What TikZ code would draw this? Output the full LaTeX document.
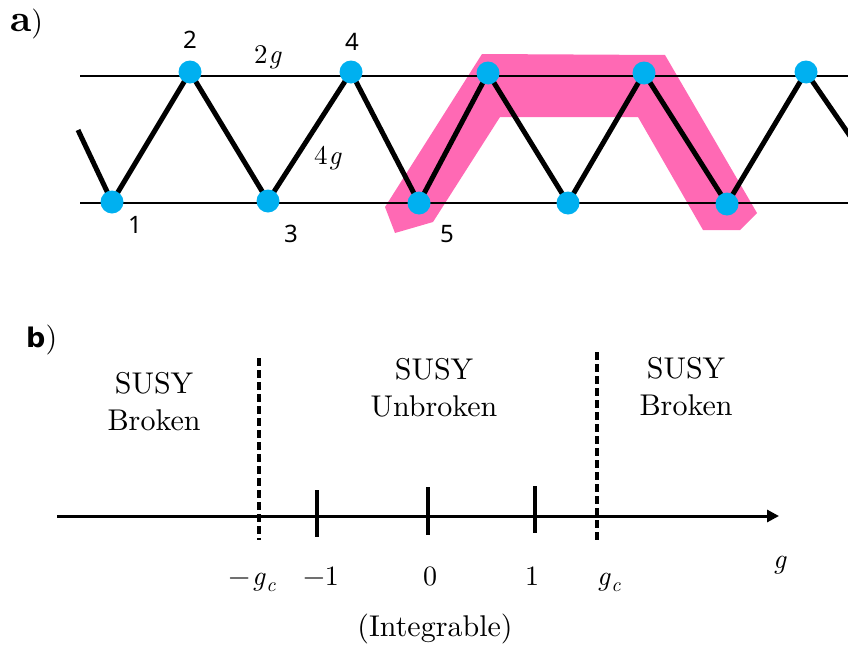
\documentclass[tikz,border=0pt]{standalone}
\usepackage{fontspec}
\setmainfont{lmroman10-regular.otf}[ItalicFont=lmroman10-italic.otf,BoldFont=lmroman10-bold.otf]
\newfontfamily\digfont{Noto Sans}
\newfontfamily\boldsans{DejaVu Sans}
\usetikzlibrary{arrows.meta}
\pgfdeclarelayer{background}
\pgfsetlayers{background,main}
\definecolor{dotblue}{HTML}{00B0F0}
\definecolor{hlpink}{HTML}{FF69B4}
\newcommand{\gvar}{\textit{g}}
\newcommand{\gcrit}{\textit{g}\kern0.5pt\raisebox{-0.22em}{\fontsize{20}{22}\selectfont\textit{c}}}
\tikzset{
  vtx/.style={circle,fill=dotblue,draw=none,minimum size=23pt,inner sep=0pt},
  zig/.style={line width=5pt,black},
  rail/.style={line width=2pt,black},
  numlbl/.style={font=\digfont\fontsize{24}{28}\selectfont,inner sep=0pt},
  mlbl/.style={font=\fontsize{27}{30}\selectfont,inner sep=0pt},
  phase/.style={font=\fontsize{30}{37}\selectfont,align=center,inner sep=0pt},
  axlbl/.style={font=\fontsize{28}{32}\selectfont,inner sep=0pt,anchor=base},
  tick/.style={line width=3.2pt},
  crit/.style={line width=3.2pt,dash pattern=on 8pt off 4pt},
}
\begin{document}
\begin{tikzpicture}[x=1pt,y=-1pt]
\useasboundingbox (0,0) rectangle (848,645);
% ---------- panel a ----------
\node[anchor=base west,inner sep=0pt] (la) at (10,31)
  {{\fontsize{38}{40}\selectfont\bfseries a}{\fontsize{30}{32}\selectfont)}};
\node[vtx] (v1) at (112,202) {};
\node[vtx] (v2) at (190,72) {};
\node[vtx] (v3) at (268,201) {};
\node[vtx] (v4) at (351,72) {};
\node[vtx] (v5) at (419,203) {};
\node[vtx] (v6) at (488,73) {};
\node[vtx] (v7) at (568,203) {};
\node[vtx] (v8) at (644,73) {};
\node[vtx] (v9) at (727,204) {};
\node[vtx] (v10) at (806,72) {};
\coordinate (z0) at (78,130);
\coordinate (z11) at (850,136);
\coordinate (ta) at (80,76);
\coordinate (tb) at (848,76);
\coordinate (ba) at (80,203);
\coordinate (bb) at (848,203);
\begin{pgfonlayer}{background}
  \fill[hlpink] (482,54) -- (665,55) -- (757,213) -- (740,230) -- (703,230)
    -- (638,117) -- (500,117) -- (433,222) -- (395,233) -- (385,207) -- cycle;
  \draw[rail] (ta) -- (tb);
  \draw[rail] (ba) -- (bb);
  \draw[zig] (z0) -- (v1.center) -- (v2.center) -- (v3.center) -- (v4.center)
    -- (v5.center) -- (v6.center) -- (v7.center) -- (v8.center) -- (v9.center)
    -- (v10.center) -- (z11);
\end{pgfonlayer}
\node[numlbl] (n1) at (135,225) {1};
\node[numlbl] (n2) at (190,40) {2};
\node[numlbl] (n3) at (291,234) {3};
\node[numlbl] (n4) at (352,42) {4};
\node[numlbl] (n5) at (447,234) {5};
\node[mlbl] (g2) at (268,57) {2\kern1pt\gvar};
\node[mlbl] (g4) at (328,158) {4\kern1pt\gvar};
% ---------- panel b ----------
\node[anchor=base west,inner sep=0pt] (lb) at (26,347)
  {{\boldsans\bfseries\fontsize{27}{30}\selectfont b}{\fontsize{30}{32}\selectfont)}};
\node[phase] (pl) at (154,402) {SUSY\\Broken};
\node[phase] (pm) at (434,388) {SUSY\\Unbroken};
\node[phase] (pr) at (686,387) {SUSY\\Broken};
\coordinate (axs) at (57,516);
\coordinate (axe) at (779,516);
\draw[line width=3pt,-{Triangle[length=12pt,width=12pt]}] (axs) -- (axe);
\coordinate (d1t) at (259,358);
\coordinate (d1b) at (259,540);
\coordinate (d2t) at (597,352);
\coordinate (d2b) at (597,540);
\draw[crit] (d1t) -- (d1b);
\draw[crit] (d2t) -- (d2b);
\coordinate (t1t) at (317,490);
\coordinate (t1b) at (317,537);
\coordinate (t2t) at (428,487);
\coordinate (t2b) at (428,535);
\coordinate (t3t) at (535,486);
\coordinate (t3b) at (535,533);
\draw[tick] (t1t) -- (t1b);
\draw[tick] (t2t) -- (t2b);
\draw[tick] (t3t) -- (t3b);
\node[axlbl] (lgc1) at (252,585) {−\kern2pt\gcrit};
\node[axlbl] (lm1) at (321,585) {−1};
\node[axlbl] (l0) at (430,585) {0};
\node[axlbl] (l1) at (532,585) {1};
\node[axlbl] (lgc2) at (609,585) {\gcrit};
\node[axlbl] (lg) at (780,568) {\gvar};
\node[axlbl,font=\fontsize{30}{34}\selectfont] (lint) at (435,636) {(Integrable)};
\end{tikzpicture}
\end{document}
